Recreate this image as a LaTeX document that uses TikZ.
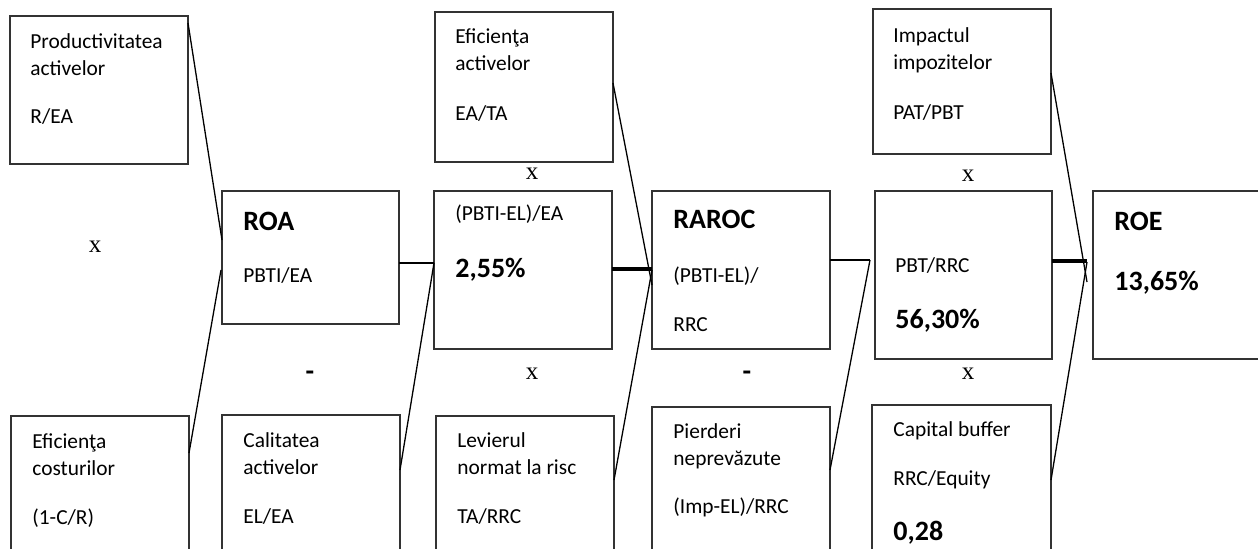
\documentclass[tikz,border=0pt]{standalone}
\usepackage{fontspec}
\setmainfont{Carlito}
\newfontfamily\serifx{Liberation Serif}
\usepackage{tikz}
\definecolor{boxline}{HTML}{333333}

\begin{document}
\begin{tikzpicture}[
  x=0.5pt, y=-0.5pt,
  box/.style={
    rectangle,
    draw=boxline,
    line width=0.9pt,
    inner sep=0pt,
    outer sep=0pt,
    anchor=north west,
    minimum width=89pt
  },
  txt/.style={font=\fontsize{10.7}{13.75}\selectfont,align=left,anchor=base west,inner sep=0pt},
  head/.style={font=\fontsize{14}{16}\selectfont\bfseries,anchor=base west,inner sep=0pt},
  opx/.style={font=\serifx\fontsize{12.5}{14}\selectfont,inner sep=0pt},
  opm/.style={font=\fontsize{14}{16}\selectfont\bfseries,inner sep=0pt},
  link/.style={line width=0.65pt},
  boldlink/.style={line width=1.6pt}
]
\useasboundingbox (0,0) rectangle (1258,548);
\clip (0,0) rectangle (1258,548);

% boxes
\node[box,minimum height=74pt] (prod) at (10,16) {};
\node[box,minimum height=75pt] (cost) at (11,416) {};
\node[box,minimum height=66.5pt,minimum width=88.5pt] (roa) at (222,191) {};
\node[box,minimum height=75pt] (calit) at (222,415) {};
\node[box,minimum height=75pt] (effact) at (435,12) {};
\node[box,minimum height=79pt] (pbel) at (434,191) {};
\node[box,minimum height=75pt] (levier) at (436,416) {};
\node[box,minimum height=79pt] (raroc) at (652,191) {};
\node[box,minimum height=80pt] (pierd) at (652,407) {};
\node[box,minimum height=72.5pt] (impact) at (873,9) {};
\node[box,minimum height=84pt,minimum width=88.5pt] (pbt) at (875,191) {};
\node[box,minimum height=80pt,minimum width=89.5pt] (capbuf) at (872,405) {};
\node[box,minimum height=84pt,minimum width=90pt] (roe) at (1093,191) {};

% texts (base = last line)
\node[txt] (prodT) at ([shift={(20,107.5)}]prod.north west) {Productivitatea\\activelor\\[10.25pt]R/EA};
\node[txt] (costT) at ([shift={(21,108.5)}]cost.north west) {Eficienţa\\costurilor\\[10.75pt](1-C/R)};
\node[txt] (calitT) at ([shift={(21,108.5)}]calit.north west) {Calitatea\\activelor\\[10.75pt]EL/EA};
\node[txt] (effactT) at ([shift={(20,108)}]effact.north west) {Eficienţa\\activelor\\[11pt]EA/TA};
\node[txt] (levierT) at ([shift={(21,107)}]levier.north west) {Levierul\\normat la risc\\[10.5pt]TA/RRC};
\node[txt] (pierdT) at ([shift={(21,106.5)}]pierd.north west) {Pierderi\\neprevăzute\\[10.25pt](Imp-EL)/RRC};
\node[txt] (impactT) at ([shift={(20,110)}]impact.north west) {Impactul\\impozitelor\\[11pt]PAT/PBT};
\node[txt] (capbufT) at ([shift={(21,80)}]capbuf.north west) {Capital buffer\\[10.75pt]RRC/Equity};
\node[head] (capbufV) at ([shift={(21,135)}]capbuf.north west) {0,28};

\node[head] (roaH) at ([shift={(21,39)}]roa.north west) {ROA};
\node[txt] (roaT) at ([shift={(21,91)}]roa.north west) {PBTI/EA};
\node[txt] (pbelT) at ([shift={(21,29)}]pbel.north west) {(PBTI-EL)/EA};
\node[head] (pbelV) at ([shift={(21,86)}]pbel.north west) {2,55\%};
\node[head] (rarocH) at ([shift={(21,37)}]raroc.north west) {RAROC};
\node[txt] (rarocT) at ([shift={(21,140)}]raroc.north west) {(PBTI-EL)/\\[10.75pt]RRC};
\node[txt] (pbtT) at ([shift={(20,81)}]pbt.north west) {PBT/RRC};
\node[head] (pbtV) at ([shift={(20,137)}]pbt.north west) {56,30\%};
\node[head] (roeH) at ([shift={(21,39)}]roe.north west) {ROE};
\node[head] (roeV) at ([shift={(21,99)}]roe.north west) {13,65\%};

% operators
\node[opx] (op1) at (95,247) {x};
\node[opx] (op2) at (532,174) {x};
\node[opx] (op3) at (532,374) {x};
\node[opx] (op4) at (968,176) {x};
\node[opx] (op5) at (968,374) {x};
\node[opm] (op6) at (310,376) {-};
\node[opm] (op7) at (747,376) {-};

% connectors
\draw[link] ([shift={(0,7)}]prod.north east) -- ([shift={(0,49)}]roa.north west);
\draw[link] ([shift={(0,37)}]cost.north east) -- ([shift={(-1,79)}]roa.north west);
\draw[link] ([shift={(0,72)}]roa.north east) -- ([shift={(0,72)}]pbel.north west);
\draw[link] ([shift={(0,55)}]calit.north east) -- ([shift={(0,72)}]pbel.north west);
\draw[link] ([shift={(0,71)}]effact.north east) -- ([shift={(0,94)}]raroc.north west);
\draw[boldlink] ([shift={(0,78)}]pbel.north east) -- ([shift={(0,78)}]raroc.north west);
\draw[link] ([shift={(0,64)}]levier.north east) -- ([shift={(0,79)}]raroc.north west);
\draw[link] ([shift={(0,69)}]raroc.north east) -- ([shift={(-5,69)}]pbt.north west);
\draw[link] ([shift={(0,63)}]pierd.north east) -- ([shift={(-5,69)}]pbt.north west);
\draw[boldlink] ([shift={(0,70)}]pbt.north east) -- ([shift={(-6,70)}]roe.north west);
\draw[link] ([shift={(0,64)}]impact.north east) -- ([shift={(-6,91)}]roe.north west);
\draw[link] ([shift={(0,75)}]capbuf.north east) -- ([shift={(-6,71)}]roe.north west);
\end{tikzpicture}
\end{document}
